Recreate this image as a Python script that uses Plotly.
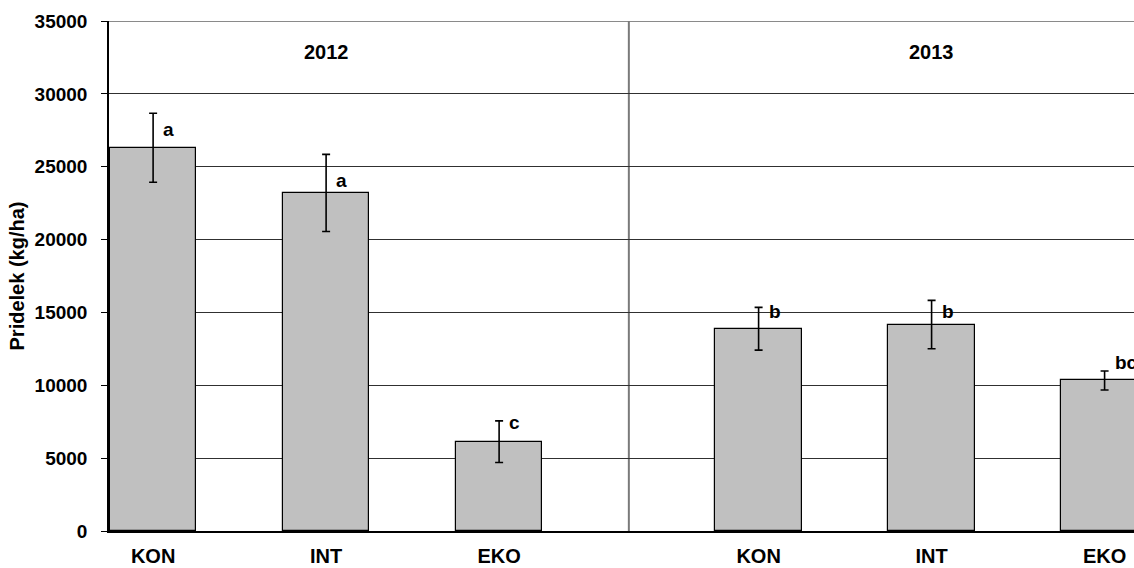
import plotly.graph_objects as go

# Yield per farming system, two seasons
years = ["2012", "2013"]
systems = ["KON", "INT", "EKO", "KON", "INT", "EKO"]
yield_mean = [26300, 23200, 6130, 13880, 14170, 10330]
yield_err = [2370, 2650, 1430, 1470, 1660, 650]
letters = ["a", "a", "c", "b", "b", "bc"]
letter_y = [27550, 24050, 7420, 15050, 15050, 11540]

# category slots: three per season with a gap between the seasons
x_pos = [0, 1, 2, 3.5, 4.5, 5.5]
year_centre = [1, 4.5]
divider_x = 2.75

FONT = "Arial, Liberation Sans, sans-serif"

fig = go.Figure()
fig.add_trace(go.Bar(
    x=x_pos,
    y=yield_mean,
    width=0.5,
    marker=dict(color="#C0C0C0", line=dict(color="black", width=1.2)),
    error_y=dict(type="data", array=yield_err, visible=True,
                 color="black", thickness=1.6, width=4),
    showlegend=False,
))

for xp, yl, txt in zip(x_pos, letter_y, letters):
    fig.add_annotation(x=xp, y=yl, text=f"<b>{txt}</b>", showarrow=False,
                       xanchor="left", xshift=8,
                       font=dict(family=FONT, size=19, color="black"))

for xc, yr in zip(year_centre, years):
    fig.add_annotation(x=xc, y=32900, text=f"<b>{yr}</b>", showarrow=False,
                       font=dict(family=FONT, size=20, color="black"))

# season divider and top border
fig.add_shape(type="line", x0=divider_x, x1=divider_x, y0=0, y1=35000,
              xref="x", yref="y", line=dict(color="#7a7a7a", width=2), layer="below")
fig.add_shape(type="line", x0=0, x1=1, xref="paper", y0=35000, y1=35000, yref="y",
              line=dict(color="#8a8a8a", width=2), layer="below")

fig.update_layout(
    width=1134, height=568,
    margin=dict(l=109, r=0, t=21, b=37, autoexpand=False),
    paper_bgcolor="white", plot_bgcolor="white",
    font=dict(family=FONT, color="black"),
    bargap=0,
)
fig.update_xaxes(
    range=[-0.255, 5.67],
    tickmode="array", tickvals=x_pos, ticktext=[f"<b>{s}</b>" for s in systems],
    tickfont=dict(family=FONT, size=20, color="black"),
    ticks="", ticklabelstandoff=6,
    showgrid=False, zeroline=False,
    showline=True, linecolor="black", linewidth=1.5,
)
fig.update_yaxes(
    range=[0, 35000],
    tickmode="array", tickvals=list(range(0, 35001, 5000)),
    ticktext=[f"<b>{v}</b>" for v in range(0, 35001, 5000)],
    tickfont=dict(family=FONT, size=19, color="black"),
    ticks="outside", ticklen=6, tickcolor="black", tickwidth=1.2,
    ticklabelstandoff=10,
    showgrid=True, gridcolor="#303030", gridwidth=1,
    zeroline=False,
    showline=True, linecolor="black", linewidth=1.5,
    title=dict(text="<b>Pridelek (kg/ha)</b>", standoff=5,
               font=dict(family=FONT, size=20, color="black")),
)

fig.write_html("out.html")
